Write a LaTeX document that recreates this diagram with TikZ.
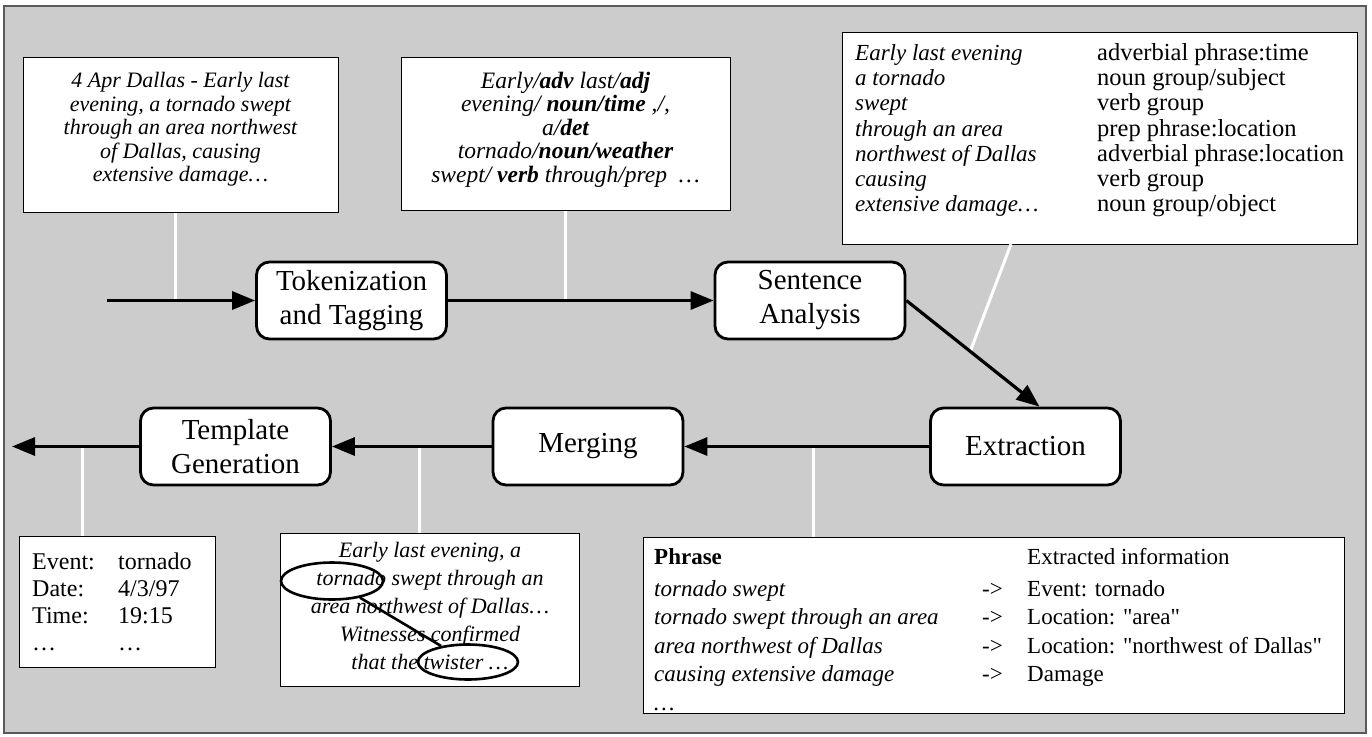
\documentclass[tikz,border=0pt]{standalone}
\usepackage{fontspec}
\usepackage{array}
\setmainfont{Liberation Serif}[Ligatures=TeXOff]
\usetikzlibrary{arrows.meta,calc,shapes.geometric}
\definecolor{bggray}{RGB}{204,204,204}
\definecolor{framegray}{RGB}{90,90,90}
\begin{document}
\begin{tikzpicture}[x=1pt,y=-1pt,
  stage/.style={draw=black, line width=2.8pt, fill=white, rounded corners=13pt,
    minimum width=190pt, minimum height=77pt, align=center, inner sep=0pt,
    font=\fontsize{29}{34}\selectfont},
  tbox/.style={draw=black, line width=1.4pt, fill=white, inner sep=0pt, anchor=north west},
  txt/.style={inner sep=0pt},
  flow/.style={line width=3.2pt, -{Triangle[length=23pt,width=18pt]}},
  link/.style={draw=white, line width=3pt},
  ring/.style={ellipse, draw=black, line width=2.6pt, inner sep=0pt},
]
\useasboundingbox (0,0) rectangle (1372,736);
\draw[fill=bggray, draw=framegray, line width=1.2pt] (4,6) rectangle (1366,733);

% text boxes (frames)
\node[tbox, minimum width=315pt, minimum height=155pt] (b1) at (23,57) {};
\node[tbox, minimum width=329pt, minimum height=153pt] (b2) at (401,57) {};
\node[tbox, minimum width=515pt, minimum height=212pt] (b3) at (842,32) {};
\node[tbox, minimum width=196pt, minimum height=131pt] (ev) at (19,536) {};
\node[tbox, minimum width=299pt, minimum height=153pt] (mb) at (280,533) {};
\node[tbox, minimum width=701pt, minimum height=176pt] (tb) at (643,537) {};

% texts
\node[txt, align=center, font=\itshape\fontsize{22}{23.5}\selectfont] (b1t) at (180.5,129.5)
  {4 Apr Dallas - Early last\\ evening, a tornado swept\\ through an area northwest\\ of Dallas, causing\\ extensive damage\dots};

\node[txt, align=center, font=\itshape\fontsize{23.5}{23.5}\selectfont] (b2t) at (565.5,129.5)
  {Early/\textbf{adv} last/\textbf{adj}\\ evening/ \textbf{noun/time} ,/,\\ a/\textbf{det}\\ tornado/\textbf{noun/weather}\\ swept/ \textbf{verb}\ through/prep\ \ \dots};

\node[txt, anchor=west, font=\fontsize{24.5}{25.3}\selectfont] (b3t) at (855,131)
  {\begin{tabular}{@{}>{\itshape\fontsize{23}{25.3}\selectfont}p{242pt}@{}l@{}}
   Early last evening & adverbial phrase:time\\
   a tornado & noun group/subject\\
   swept & verb group\\
   through an area & prep phrase:location\\
   northwest of Dallas & adverbial phrase:location\\
   causing & verb group\\
   extensive damage\dots & noun group/object
   \end{tabular}};

\node[txt, anchor=west, font=\fontsize{24}{27}\selectfont] (evt) at (32,605)
  {\begin{tabular}{@{}p{86pt}@{}l@{}}
   Event: & tornado\\ Date: & 4/3/97\\ Time: & 19:15\\ \dots & \dots
   \end{tabular}};

\node[txt, align=center, font=\itshape\fontsize{22}{28}\selectfont] (mbt) at (430,606)
  {Early last evening, a\\ tornado swept through an\\ area northwest of Dallas\dots\\ Witnesses confirmed\\ that the twister \dots};

\node[txt, anchor=west, font=\fontsize{23}{28.5}\selectfont] (tbt) at (654,632)
  {\begin{tabular}{@{}p{328pt}@{}p{45pt}@{}l@{}}
   \textbf{Phrase} & & Extracted information\\[3pt]
   \textit{tornado swept} & -> & Event: tornado\\
   \textit{tornado swept through an area} & -> & Location: "area"\\
   \textit{area northwest of Dallas} & -> & Location: "northwest of Dallas"\\
   \textit{causing extensive damage} & -> & Damage\\
   \textit{\dots} & &
   \end{tabular}};

% stages
\node[stage] (tok) at (351.5,300.5) {Tokenization\\and Tagging};
\node[stage] (sa)  at (810,300.5)   {Sentence\\Analysis};
\node[stage] (ext) at (1025.5,446.5) {Extraction};
\node[stage] (mer) at (588,446.5)   {Merging};
\node[stage] (tem) at (235.5,446.5) {Template\\Generation};

% ellipses in merging box
\node[ring, minimum width=102pt, minimum height=37pt] (e1) at (332,581) {};
\node[ring, minimum width=100pt, minimum height=35pt] (e2) at (468,662) {};
\draw[line width=2.6pt] (e1) -- (e2);

% white leader lines
\coordinate (w1) at (175,301);
\coordinate (w2) at (565,300);
\coordinate (w3a) at (1011,244);
\coordinate (w3b) at (970,352);
\coordinate (w4) at (82,447);
\coordinate (w5) at (419,447);
\coordinate (w6) at (813,447);
\draw[link] (b1.south -| w1) -- (w1);
\draw[link] (b2.south -| w2) -- (w2);
\draw[link] (w3a) -- (w3b);
\draw[link] (w4) -- (ev.north -| w4);
\draw[link] (w5) -- (mb.north -| w5);
\draw[link] (w6) -- (tb.north -| w6);

% flow arrows
\coordinate (in) at (107,300.5);
\coordinate (out) at (12,446.5);
\draw[flow] (in) -- (tok.west);
\draw[flow] (tok) -- (sa);
\draw[flow] (sa.east) -- ([xshift=14pt]ext.north);
\draw[flow] (ext) -- (mer);
\draw[flow] (mer) -- (tem);
\draw[flow] (tem.west) -- (out);
\end{tikzpicture}
\end{document}
